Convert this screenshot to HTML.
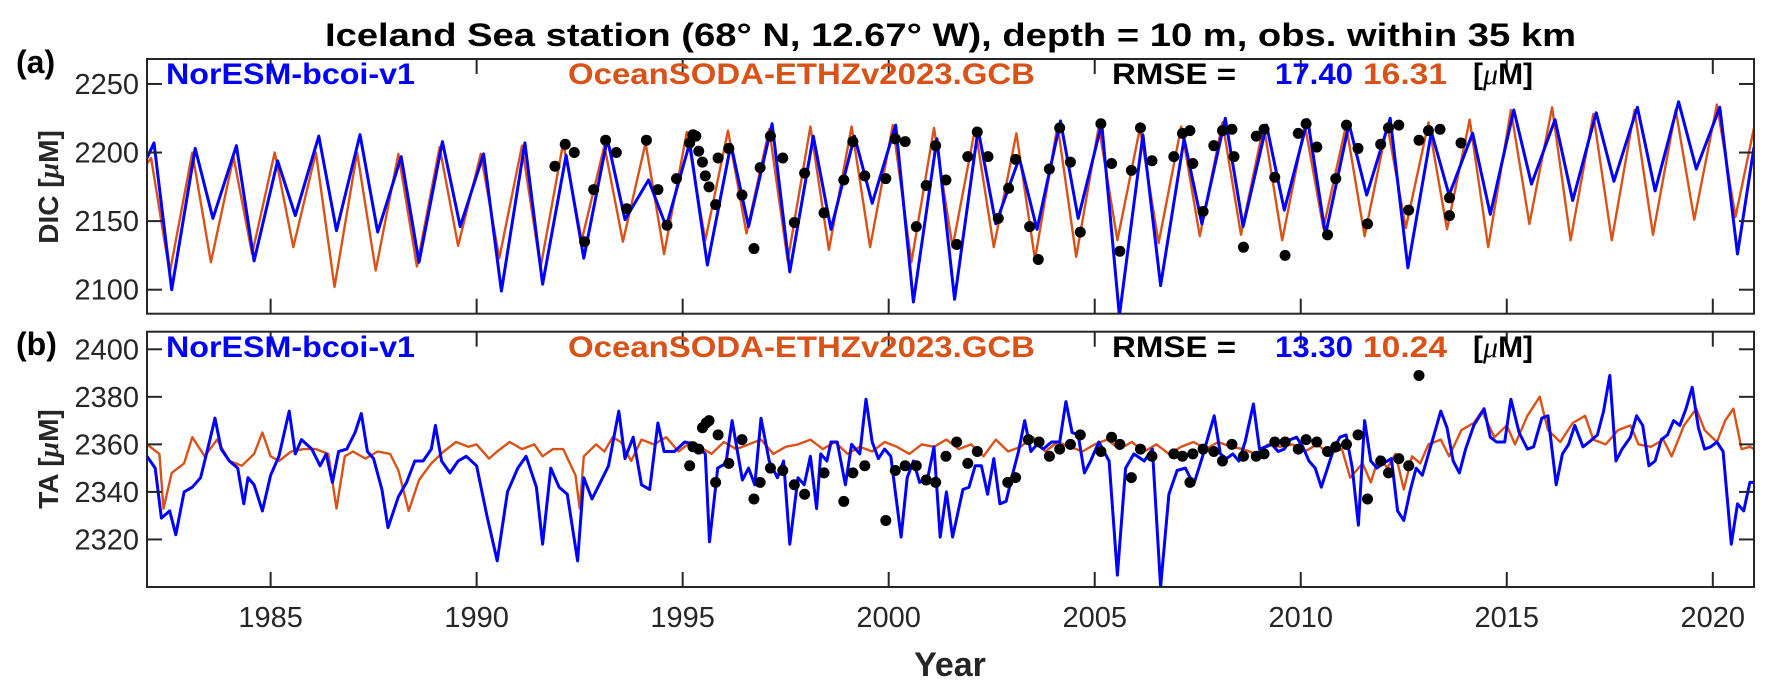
<!DOCTYPE html>
<html><head><meta charset="utf-8"><style>
html,body{margin:0;padding:0;background:#fff;}
svg{display:block;font-family:"Liberation Sans",Arial,sans-serif;}
</style></head><body>
<svg id="chart" width="1772" height="695" viewBox="0 0 1772 695" xmlns="http://www.w3.org/2000/svg">
<defs>
<clipPath id="clipA"><rect x="147" y="59" width="1607" height="255"/></clipPath>
<clipPath id="clipB"><rect x="147" y="331.7" width="1607" height="255.3"/></clipPath>
</defs>
<text x="325" y="46" font-size="32" font-weight="bold" textLength="1251" lengthAdjust="spacingAndGlyphs">Iceland Sea station (68° N, 12.67° W), depth = 10 m, obs. within 35 km</text>
<text x="16" y="73" font-size="32" font-weight="bold">(a)</text>
<text x="16" y="355" font-size="32" font-weight="bold">(b)</text>
<text transform="translate(58,187) rotate(-90)" text-anchor="middle" font-size="28" font-weight="bold" fill="#262626">DIC [<tspan font-style="italic" font-family="'Liberation Serif',serif">μ</tspan>M]</text>
<text transform="translate(58,459) rotate(-90)" text-anchor="middle" font-size="28" font-weight="bold" fill="#262626">TA [<tspan font-style="italic" font-family="'Liberation Serif',serif">μ</tspan>M]</text>
<text x="950" y="676" text-anchor="middle" font-size="34" font-weight="bold" fill="#262626">Year</text>
<g id="gA"></g>
<g id="gB"></g>
</svg>
<script>
// ---- data ----
const years = [1982,1983,1984,1985,1986,1987,1988,1989,1990,1991,1992,1993,1994,1995,1996,1997,1998,1999,2000,2001,2002,2003,2004,2005,2006,2007,2008,2009,2010,2011,2012,2013,2014,2015,2016,2017,2018,2019,2020];
const dicBluePeak = [2207,2203,2205,2194,2212,2213,2197,2208,2199,2207,2198,2210,2180,2207,2206,2221,2212,2212,2220,2210,2217,2196,2223,2221,2213,2210,2225,2220,2224,2221,2225,2215,2214,2231,2224,2229,2233,2237,2233];
const dicBlueTrough = [2100,2152,2121,2154,2143,2142,2120,2146,2099,2104,2123,2151,2146,2118,2146,2113,2144,2163,2091,2093,2148,2144,2152,2081,2103,2148,2146,2158,2140,2169,2116,2169,2155,2177,2165,2179,2172,2188,2126];
const dicOrangePeak = [2196,2200,2197,2200,2200,2200,2199,2204,2199,2205,2207,2205,2207,2215,2216,2217,2219,2219,2220,2218,2218,2214,2220,2219,2218,2219,2222,2220,2220,2220,2220,2222,2224,2231,2233,2228,2231,2231,2235];
const dicOrangeTrough = [2112,2120,2126,2131,2102,2114,2117,2132,2123,2116,2136,2135,2126,2136,2141,2121,2129,2131,2120,2131,2131,2122,2124,2136,2134,2139,2140,2136,2145,2139,2145,2144,2131,2148,2136,2136,2140,2151,2153];
const dicBlueStart = 2196, dicBlueEnd = 2204, dicOrangeStart = 2192, dicOrangeEnd = 2218;
const dicObsT = [1991.90,1992.15,1992.37,1992.62,1992.84,1993.13,1993.39,1993.64,1994.12,1994.40,1994.62,1994.85,1995.17,1995.25,1995.32,1995.39,1995.48,1995.55,1995.64,1995.80,1995.86,1996.12,1996.44,1996.73,1996.88,1997.13,1997.43,1997.71,1997.96,1998.43,1998.91,1999.13,1999.42,1999.93,2000.16,2000.40,2000.67,2000.91,2001.14,2001.39,2001.65,2001.92,2002.15,2002.41,2002.66,2002.91,2003.08,2003.42,2003.63,2003.90,2004.15,2004.41,2004.65,2005.15,2005.41,2005.61,2005.89,2006.11,2006.39,2006.92,2007.13,2007.31,2007.38,2007.63,2007.89,2008.10,2008.33,2008.38,2008.61,2008.92,2009.11,2009.37,2009.62,2009.94,2010.13,2010.39,2010.65,2010.85,2011.11,2011.39,2011.62,2011.94,2012.13,2012.38,2012.62,2012.87,2013.10,2013.38,2013.61,2013.61,2013.89];
const dicObsV = [2190,2206,2200,2135,2173,2209,2200,2159,2209,2173,2147,2181,2207,2213,2212,2201,2193,2183,2175,2162,2196,2203,2169,2130,2189,2212,2196,2149,2185,2156,2180,2208,2183,2181,2210,2208,2146,2176,2205,2180,2133,2197,2215,2197,2152,2174,2195,2146,2122,2188,2218,2193,2142,2221,2192,2128,2187,2218,2194,2197,2214,2216,2192,2157,2205,2216,2217,2197,2131,2212,2217,2182,2125,2214,2221,2204,2140,2181,2220,2203,2148,2206,2218,2220,2158,2209,2216,2217,2167,2154,2207];

const taBlueT = [1982.0,1982.2,1982.35,1982.55,1982.7,1982.9,1983.1,1983.3,1983.5,1983.65,1983.8,1984.0,1984.2,1984.35,1984.45,1984.6,1984.8,1985.0,1985.2,1985.45,1985.6,1985.75,1986.0,1986.2,1986.35,1986.5,1986.65,1986.85,1987.05,1987.2,1987.35,1987.5,1987.7,1987.85,1988.1,1988.3,1988.5,1988.7,1988.9,1989.0,1989.15,1989.35,1989.55,1989.75,1990.0,1990.25,1990.5,1990.75,1991.0,1991.2,1991.45,1991.6,1991.8,1992.0,1992.2,1992.45,1992.6,1992.8,1993.0,1993.2,1993.45,1993.6,1993.8,1994.0,1994.2,1994.4,1994.55,1994.8,1995.05,1995.3,1995.55,1995.65,1995.85,1996.05,1996.2,1996.45,1996.6,1996.75,1996.9,1997.1,1997.3,1997.45,1997.6,1997.8,1997.95,1998.1,1998.25,1998.35,1998.5,1998.6,1998.75,1998.95,1999.1,1999.2,1999.3,1999.45,1999.6,1999.75,1999.9,2000.05,2000.3,2000.45,2000.6,2000.75,2000.95,2001.1,2001.25,2001.4,2001.55,2001.8,2001.95,2002.1,2002.25,2002.4,2002.55,2002.7,2002.85,2003.0,2003.15,2003.3,2003.45,2003.6,2003.75,2003.95,2004.15,2004.3,2004.45,2004.6,2004.75,2004.9,2005.1,2005.35,2005.55,2005.75,2005.95,2006.2,2006.4,2006.6,2006.8,2007.0,2007.2,2007.4,2007.6,2007.75,2007.9,2008.05,2008.2,2008.35,2008.5,2008.65,2008.85,2009.0,2009.15,2009.3,2009.45,2009.6,2009.75,2009.9,2010.05,2010.2,2010.35,2010.5,2010.65,2010.8,2010.95,2011.1,2011.25,2011.4,2011.55,2011.7,2011.85,2012.0,2012.2,2012.35,2012.5,2012.65,2012.8,2012.95,2013.1,2013.3,2013.4,2013.55,2013.7,2013.85,2014.0,2014.2,2014.45,2014.6,2014.75,2014.95,2015.1,2015.3,2015.5,2015.65,2015.85,2016.0,2016.2,2016.35,2016.5,2016.65,2016.85,2017.0,2017.2,2017.35,2017.5,2017.65,2017.8,2018.0,2018.15,2018.3,2018.45,2018.6,2018.75,2018.9,2019.05,2019.2,2019.35,2019.5,2019.65,2019.8,2019.95,2020.1,2020.25,2020.45,2020.6,2020.75,2020.9,2021.0];
const taBlueV = [2355,2350,2329,2332,2322,2340,2342,2346,2360,2371,2358,2353,2350,2335,2346,2343,2332,2347,2355,2374,2356,2362,2358,2351,2356,2344,2357,2358,2365,2373,2357,2354,2341,2325,2338,2344,2353,2353,2358,2368,2353,2348,2353,2355,2351,2330,2311,2340,2350,2355,2342,2318,2350,2342,2339,2311,2346,2337,2344,2351,2374,2354,2363,2343,2341,2369,2357,2357,2361,2360,2356,2319,2350,2352,2370,2345,2350,2343,2371,2353,2346,2353,2318,2346,2343,2355,2333,2356,2353,2361,2361,2343,2360,2358,2356,2379,2361,2354,2358,2355,2321,2346,2353,2344,2346,2359,2321,2340,2321,2341,2342,2351,2351,2339,2354,2335,2336,2347,2357,2370,2357,2360,2358,2361,2361,2378,2365,2364,2348,2353,2361,2353,2305,2350,2356,2353,2358,2300,2339,2349,2350,2343,2354,2363,2372,2356,2354,2356,2353,2361,2377,2358,2359,2360,2357,2358,2362,2363,2359,2353,2350,2342,2350,2358,2363,2364,2350,2326,2370,2353,2350,2352,2354,2332,2328,2340,2350,2347,2356,2368,2374,2367,2353,2348,2358,2368,2375,2363,2361,2361,2379,2365,2358,2359,2371,2372,2343,2356,2360,2368,2359,2361,2364,2374,2389,2353,2358,2363,2372,2368,2351,2353,2362,2364,2370,2368,2375,2384,2367,2358,2359,2361,2357,2318,2335,2332,2344,2344];
const taOrangeT = [1982.0,1982.3,1982.4,1982.6,1982.9,1983.1,1983.4,1983.7,1984.0,1984.3,1984.6,1984.8,1985.0,1985.2,1985.5,1985.8,1986.1,1986.4,1986.6,1986.8,1987.0,1987.3,1987.6,1987.9,1988.1,1988.35,1988.6,1988.9,1989.2,1989.5,1989.8,1990.0,1990.3,1990.5,1990.8,1991.1,1991.4,1991.6,1991.85,1992.1,1992.4,1992.5,1992.6,1992.9,1993.1,1993.3,1993.5,1993.75,1994.0,1994.3,1994.6,1994.9,1995.2,1995.5,1995.7,1996.0,1996.3,1996.6,1996.9,1997.2,1997.5,1997.8,1998.1,1998.4,1998.7,1999.0,1999.3,1999.6,1999.9,2000.2,2000.5,2000.8,2001.1,2001.4,2001.7,2002.0,2002.3,2002.6,2002.9,2003.2,2003.5,2003.8,2004.1,2004.4,2004.7,2005.0,2005.3,2005.6,2005.9,2006.2,2006.5,2006.8,2007.1,2007.4,2007.7,2008.0,2008.3,2008.6,2008.9,2009.2,2009.5,2009.8,2010.1,2010.4,2010.7,2011.0,2011.2,2011.5,2011.7,2011.9,2012.1,2012.3,2012.5,2012.7,2012.9,2013.1,2013.4,2013.6,2013.9,2014.2,2014.4,2014.7,2015.0,2015.2,2015.5,2015.8,2016.0,2016.3,2016.6,2016.9,2017.1,2017.4,2017.7,2018.0,2018.2,2018.5,2018.8,2019.0,2019.3,2019.6,2019.8,2020.1,2020.3,2020.5,2020.7,2020.9,2021.0];
const taOrangeV = [2360,2356,2333,2348,2352,2363,2355,2362,2353,2351,2356,2365,2355,2353,2357,2358,2358,2356,2333,2355,2357,2354,2357,2356,2349,2332,2345,2352,2357,2361,2359,2360,2354,2357,2361,2358,2360,2355,2358,2358,2347,2333,2355,2360,2357,2363,2361,2353,2362,2360,2363,2357,2361,2358,2356,2361,2358,2360,2362,2356,2359,2360,2362,2358,2361,2356,2359,2357,2361,2359,2356,2360,2359,2362,2358,2360,2355,2362,2357,2359,2363,2357,2361,2359,2357,2360,2362,2358,2361,2357,2360,2356,2359,2361,2358,2361,2359,2358,2356,2360,2359,2360,2357,2360,2356,2358,2346,2352,2344,2355,2350,2356,2341,2355,2352,2360,2362,2355,2366,2369,2374,2363,2368,2360,2372,2380,2366,2361,2369,2372,2362,2360,2366,2368,2360,2359,2362,2355,2368,2375,2366,2361,2370,2375,2358,2359,2358];
const taObsT = [1995.17,1995.25,1995.39,1995.48,1995.57,1995.64,1995.80,1995.86,1996.12,1996.44,1996.73,1996.88,1997.13,1997.43,1997.71,1997.96,1998.43,1998.91,1999.13,1999.42,1999.93,2000.16,2000.40,2000.67,2000.91,2001.14,2001.39,2001.65,2001.92,2002.15,2002.89,2003.08,2003.39,2003.65,2003.90,2004.15,2004.41,2004.65,2005.15,2005.41,2005.61,2005.89,2006.11,2006.39,2006.92,2007.13,2007.31,2007.38,2007.63,2007.89,2008.10,2008.33,2008.61,2008.92,2009.11,2009.37,2009.62,2009.94,2010.13,2010.39,2010.65,2010.85,2011.11,2011.39,2011.62,2011.94,2012.13,2012.38,2012.62,2012.87];
const taObsV = [2351,2359,2358,2367,2369,2370,2344,2364,2352,2362,2337,2344,2350,2349,2343,2339,2348,2336,2348,2351,2328,2349,2351,2351,2345,2344,2355,2361,2352,2357,2344,2346,2362,2361,2355,2358,2360,2364,2357,2363,2360,2346,2358,2355,2356,2355,2344,2356,2358,2357,2353,2360,2355,2355,2356,2361,2361,2358,2362,2361,2357,2359,2360,2364,2337,2353,2348,2354,2351,2389];
const xTicks = [1985,1990,1995,2000,2005,2010,2015,2020];
const dicTicks = [2100,2150,2200,2250];
const taTicks = [2320,2340,2360,2380,2400];

// ---- scales ----
const X0=147, X1=1754, T0=1982, T1=2021;
const xs = t => X0 + (t - T0) / (T1 - T0) * (X1 - X0);
const A = {top:59, bot:313.7, vmax:2268.2, vmin:2082.5};
const B = {top:331.7, bot:587, vmax:2407.4, vmin:2300};
const ysA = v => A.top + (A.vmax - v) / (A.vmax - A.vmin) * (A.bot - A.top);
const ysB = v => B.top + (B.vmax - v) / (B.vmax - B.vmin) * (B.bot - B.top);
const NS = 'http://www.w3.org/2000/svg';
function mk(tag, attrs, parent){ const e=document.createElementNS(NS,tag); for(const k in attrs) e.setAttribute(k, attrs[k]); parent.appendChild(e); return e; }
const BLUE='#0000ff', ORANGE='#D95319', AX='#262626';

function drawAxes(g, P, ys, ticks, nameP){
  const box = mk('rect',{x:X0,y:P.top,width:X1-X0,height:P.bot-P.top,fill:'none',stroke:AX,'stroke-width':2},g);
  
  
  ticks.forEach(v=>{
    const y=ys(v);
    const t1 = mk('line',{x1:X0,x2:X0+15,y1:y,y2:y,stroke:AX,'stroke-width':2},g);
    
    
    const t2 = mk('line',{x1:X1-15,x2:X1,y1:y,y2:y,stroke:AX,'stroke-width':2},g);
    
    
    const lb = mk('text',{x:X0-8,y:y+10,'text-anchor':'end','font-size':29,fill:AX},g);
    lb.textContent = v;
    
    
  });
  xTicks.forEach(t=>{
    const x=xs(t);
    const a = mk('line',{x1:x,x2:x,y1:P.bot,y2:P.bot-15,stroke:AX,'stroke-width':2},g);
    
    
    const b = mk('line',{x1:x,x2:x,y1:P.top,y2:P.top+15,stroke:AX,'stroke-width':2},g);
    
    
  });
}
function line(g, pts, color, w, clip, name){
  const d = pts.map((p,i)=>(i?'L':'M')+p[0].toFixed(1)+','+p[1].toFixed(1)).join('');
  const e = mk('path',{d:d,fill:'none',stroke:color,'stroke-width':w,'stroke-linejoin':'round','clip-path':'url(#'+clip+')'},g);
  
  
}
function dots(g, T, V, ys, name){
  T.forEach((t,i)=>{
    const c = mk('circle',{cx:xs(t),cy:ys(V[i]),r:5.5,fill:'#000'},g);
    
    
  });
}
function legend(g, base, r1, r2){
  const items = [
    ['NorESM-bcoi-v1',166,249,BLUE,'legend-noresm'],
    ['OceanSODA-ETHZv2023.GCB',568,467,ORANGE,'legend-oceansoda'],
    ['RMSE =',1112,124,'#000','legend-rmse-label'],
    [r1,1275,78,BLUE,'legend-rmse-noresm'],
    [r2,1363,84,ORANGE,'legend-rmse-oceansoda']
  ];
  items.forEach(it=>{
    const t = mk('text',{x:it[1],y:base,'font-size':30,'font-weight':'bold',fill:it[3],textLength:it[2],lengthAdjust:'spacingAndGlyphs'},g);
    t.textContent = it[0];
    
    
  });
  const u = mk('text',{x:1473,y:base,'font-size':30,'font-weight':'bold',fill:'#000'},g);
  u.innerHTML = '[<tspan font-style="italic" font-weight="normal" font-family="Liberation Serif, serif">μ</tspan>M]';
  
  
}

// ---- panel A (DIC) ----
const gA = document.getElementById('gA');
const gB = document.getElementById('gB');
const blueA = [[xs(1982.0), ysA(dicBlueStart)]];
const orA = [[xs(1982.0), ysA(dicOrangeStart)]];
years.forEach((y,i)=>{
  blueA.push([xs(y+0.17), ysA(dicBluePeak[i])]);
  blueA.push([xs(y+0.6), ysA(dicBlueTrough[i])]);
  orA.push([xs(y+0.1), ysA(dicOrangePeak[i])]);
  orA.push([xs(y+0.55), ysA(dicOrangeTrough[i])]);
});
blueA.push([xs(2021.0), ysA(dicBlueEnd)]);
orA.push([xs(2021.0), ysA(dicOrangeEnd)]);
line(gA, orA, ORANGE, 2.4, 'clipA', 'dic-oceansoda-line');
line(gA, blueA, BLUE, 3, 'clipA', 'dic-noresm-line');
dots(gA, dicObsT, dicObsV, ysA, 'dic-observation');
drawAxes(gA, A, ysA, dicTicks, 'dic');
legend(gA, 84, '17.40', '16.31');

// ---- panel B (TA) ----
line(gB, taOrangeT.map((t,i)=>[xs(t), ysB(taOrangeV[i])]), ORANGE, 2.4, 'clipB', 'ta-oceansoda-line');
line(gB, taBlueT.map((t,i)=>[xs(t), ysB(taBlueV[i])]), BLUE, 3, 'clipB', 'ta-noresm-line');
dots(gB, taObsT, taObsV, ysB, 'ta-observation');
drawAxes(gB, B, ysB, taTicks, 'ta');
legend(gB, 357, '13.30', '10.24');

// x tick labels
xTicks.forEach(t=>{
  const l = mk('text',{x:xs(t),y:627,'text-anchor':'middle','font-size':29,fill:AX},gB);
  l.textContent = t;
  
  
});
</script>
</body></html>
